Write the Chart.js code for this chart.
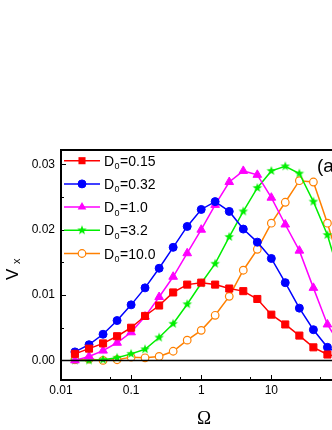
<!DOCTYPE html>
<html>
<head>
<meta charset="utf-8">
<script src="https://cdn.jsdelivr.net/npm/chart.js@4.4.0/dist/chart.umd.min.js"></script>
<style>
html, body { margin: 0; padding: 0; background: #fff; overflow: hidden; }
#wrap { width: 355px; height: 430px; }
</style>
</head>
<body>
<div id="wrap"><canvas id="grafica" width="355" height="430"></canvas></div>
<script>
// valores
const omega = [0.0158, 0.0251, 0.0398, 0.0631, 0.1, 0.158, 0.251, 0.398, 0.631, 1,
               1.58, 2.51, 3.98, 6.31, 10, 15.8, 25.1, 39.8, 63.1, 100];
const vD015 = [0.0010, 0.0018, 0.0026, 0.0037, 0.0050, 0.0068, 0.0084, 0.0104, 0.0116, 0.0119,
               0.0116, 0.0110, 0.0106, 0.0094, 0.0070, 0.0055, 0.0038, 0.0020, 0.0009, 0.0004];
const vD032 = [0.0013, 0.0024, 0.0040, 0.0061, 0.0085, 0.0111, 0.0141, 0.0173, 0.0205, 0.0231,
               0.0243, 0.0228, 0.0201, 0.0181, 0.0156, 0.0119, 0.0080, 0.0047, 0.0020, 0.0008];
const vD10  = [0.0000, 0.0006, 0.0015, 0.0027, 0.0043, 0.0067, 0.0097, 0.0128, 0.0164, 0.0200,
               0.0238, 0.0273, 0.0290, 0.0284, 0.0249, 0.0208, 0.0168, 0.0111, 0.0055, 0.0020];
const vD32  = [0.0000, 0.0000, 0.0001, 0.0004, 0.0010, 0.0017, 0.0035, 0.0056, 0.0086, 0.0118,
               0.0148, 0.0189, 0.0228, 0.0264, 0.0290, 0.0297, 0.0286, 0.0243, 0.0192, 0.0120];
const vD100 = [0.0001, 0.0002, 0.0000, 0.0001, 0.0005, 0.0004, 0.0006, 0.0014, 0.0031, 0.0046,
               0.0069, 0.0098, 0.0138, 0.0170, 0.0210, 0.0242, 0.0275, 0.0273, 0.0210, 0.0140];
const etiquetasD = ['0.15', '0.32', '1.0', '3.2', '10.0'];

const ticksX = [0.01, 0.1, 1, 10, 100];
const ticksXMenor = [0.05, 0.5, 5, 50];
const ticksY = [0, 0.01, 0.02, 0.03];
const ticksYMenor = [0.005, 0.015, 0.025];

const colores = ['#ff0000', '#0000ff', '#ff00ff', '#00ee00', '#ff8000'];

function crearEstrella(color, r) {
    const c = document.createElement('canvas');
    const s = Math.ceil(r * 2) + 2;
    c.width = s; c.height = s;
    const g = c.getContext('2d');
    g.beginPath();
    for (let i = 0; i < 10; i++) {
        const rad = i % 2 === 0 ? r : r * 0.42;
        const a = -Math.PI / 2 + i * Math.PI / 5;
        const px = s / 2 + rad * Math.cos(a), py = s / 2 + rad * Math.sin(a);
        if (i === 0) g.moveTo(px, py); else g.lineTo(px, py);
    }
    g.closePath();
    g.fillStyle = color;
    g.fill();
    return c;
}
const estrella = crearEstrella(colores[3], 5);

const series = [vD015, vD032, vD10, vD32, vD100];
const estilos = [
    { pointStyle: 'rect', radius: 5, fondo: colores[0] },
    { pointStyle: 'circle', radius: 4, fondo: colores[1] },
    { pointStyle: 'triangle', radius: 5, fondo: colores[2] },
    { pointStyle: estrella, radius: 5, fondo: colores[3] },
    { pointStyle: 'circle', radius: 3.8, fondo: '#ffffff' }
];

const datasets = series.map((vals, i) => ({
    label: 'D0=' + etiquetasD[i],
    data: vals.map((v, j) => ({ x: omega[j], y: v })),
    borderColor: colores[i],
    backgroundColor: estilos[i].fondo,
    pointBackgroundColor: estilos[i].fondo,
    pointBorderColor: colores[i],
    pointBorderWidth: i === 4 ? 1.2 : 1,
    pointStyle: estilos[i].pointStyle,
    pointRadius: estilos[i].radius,
    borderWidth: 1.5,
    tension: 0
}));

function dibujarMarcador(ctx, i, x, y) {
    const e = estilos[i];
    ctx.save();
    ctx.fillStyle = e.fondo;
    ctx.strokeStyle = colores[i];
    ctx.lineWidth = i === 4 ? 1.2 : 1;
    ctx.beginPath();
    if (e.pointStyle === 'rect') {
        const s = e.radius * Math.SQRT1_2;
        ctx.rect(x - s, y - s, 2 * s, 2 * s);
        ctx.fill();
    } else if (e.pointStyle === 'circle') {
        ctx.arc(x, y, e.radius, 0, Math.PI * 2);
        ctx.fill();
        ctx.stroke();
    } else if (e.pointStyle === 'triangle') {
        const r = e.radius;
        ctx.moveTo(x, y - r);
        ctx.lineTo(x + r * Math.sin(Math.PI / 3), y + r / 2);
        ctx.lineTo(x - r * Math.sin(Math.PI / 3), y + r / 2);
        ctx.closePath();
        ctx.fill();
    } else {
        ctx.drawImage(estrella, x - estrella.width / 2, y - estrella.height / 2);
    }
    ctx.restore();
}

const decoracion = {
    id: 'decoracion',
    afterDraw(chart) {
        const ctx = chart.ctx;
        const area = chart.chartArea;
        const xs = chart.scales.x, ys = chart.scales.y;
        ctx.save();
        ctx.strokeStyle = '#000';
        // marco superior
        ctx.lineWidth = 2;
        ctx.beginPath();
        ctx.moveTo(area.left - 1, area.top);
        ctx.lineTo(area.right, area.top);
        ctx.stroke();
        // linea de cero
        ctx.lineWidth = 1.5;
        const y0 = ys.getPixelForValue(0);
        ctx.beginPath();
        ctx.moveTo(area.left, y0);
        ctx.lineTo(area.right, y0);
        ctx.stroke();
        // ticks hacia dentro
        ctx.lineWidth = 1;
        ctx.beginPath();
        ticksY.forEach(v => { const y = Math.round(ys.getPixelForValue(v)) + 0.5; ctx.moveTo(area.left, y); ctx.lineTo(area.left + 5, y); });
        ticksYMenor.forEach(v => { const y = Math.round(ys.getPixelForValue(v)) + 0.5; ctx.moveTo(area.left, y); ctx.lineTo(area.left + 3, y); });
        ticksX.forEach(v => { const x = Math.round(xs.getPixelForValue(v)) + 0.5; ctx.moveTo(x, area.bottom); ctx.lineTo(x, area.bottom - 5); });
        ticksXMenor.forEach(v => { const x = Math.round(xs.getPixelForValue(v)) + 0.5; ctx.moveTo(x, area.bottom); ctx.lineTo(x, area.bottom - 3); });
        ctx.stroke();

        // leyenda
        ctx.textBaseline = 'alphabetic';
        ctx.textAlign = 'left';
        for (let i = 0; i < 5; i++) {
            const y = area.top + 10.7 + i * 23.2;
            ctx.strokeStyle = colores[i];
            ctx.lineWidth = 1.5;
            ctx.beginPath();
            ctx.moveTo(area.left + 3, y);
            ctx.lineTo(area.left + 39, y);
            ctx.stroke();
            dibujarMarcador(ctx, i, area.left + 21, y);
            ctx.fillStyle = '#000';
            let tx = area.left + 43;
            ctx.font = '14px "Liberation Sans", Arial, sans-serif';
            ctx.fillText('D', tx, y + 5);
            tx += ctx.measureText('D').width;
            ctx.font = '9px "Liberation Sans", Arial, sans-serif';
            ctx.fillText('0', tx + 0.5, y + 8.5);
            tx += ctx.measureText('0').width + 1;
            ctx.font = '14px "Liberation Sans", Arial, sans-serif';
            ctx.fillText('=' + etiquetasD[i], tx, y + 5);
        }

        // etiqueta (a)
        ctx.fillStyle = '#000';
        ctx.font = '19px "Liberation Sans", Arial, sans-serif';
        ctx.fillText('(a)', 317, area.top + 22);

        // titulo eje x
        ctx.font = '19px "Liberation Serif", "Times New Roman", serif';
        ctx.textAlign = 'center';
        ctx.fillText('\u03A9', (area.left + area.right) / 2, 424);

        // titulo eje y
        ctx.translate(18, 266);
        ctx.rotate(-Math.PI / 2);
        ctx.textAlign = 'left';
        ctx.font = '17px "Liberation Sans", Arial, sans-serif';
        ctx.fillText('V', -14, 0);
        ctx.font = '11px "Liberation Sans", Arial, sans-serif';
        ctx.fillText('x', 2, 2);
        ctx.restore();
    }
};

const fuenteTicks = { family: '"Liberation Sans", Arial, sans-serif', size: 12 };

new Chart(document.getElementById('grafica').getContext('2d'), {
    type: 'line',
    data: { datasets: datasets },
    options: {
        responsive: false,
        animation: false,
        layout: { padding: { top: 150, right: 8, left: 0, bottom: 0 } },
        plugins: { legend: { display: false }, tooltip: { enabled: false } },
        scales: {
            x: {
                type: 'logarithmic',
                min: 0.01,
                max: 120,
                grid: { display: false, drawTicks: false },
                border: { display: true, color: '#000', width: 2 },
                afterBuildTicks: s => { s.ticks = ticksX.map(v => ({ value: v })); },
                afterFit: s => { s.height = 50; },
                ticks: {
                    autoSkip: false, maxRotation: 0, padding: 3, color: '#000', font: fuenteTicks,
                    callback: v => String(v)
                }
            },
            y: {
                type: 'linear',
                min: -0.003,
                max: 0.0322,
                grid: { display: false, drawTicks: false },
                border: { display: true, color: '#000', width: 2 },
                afterBuildTicks: s => { s.ticks = ticksY.map(v => ({ value: v })); },
                afterFit: s => { s.width = 61; },
                ticks: {
                    padding: 6, color: '#000', font: fuenteTicks,
                    callback: v => v.toFixed(2)
                }
            }
        }
    },
    plugins: [decoracion]
});
</script>
</body>
</html>
